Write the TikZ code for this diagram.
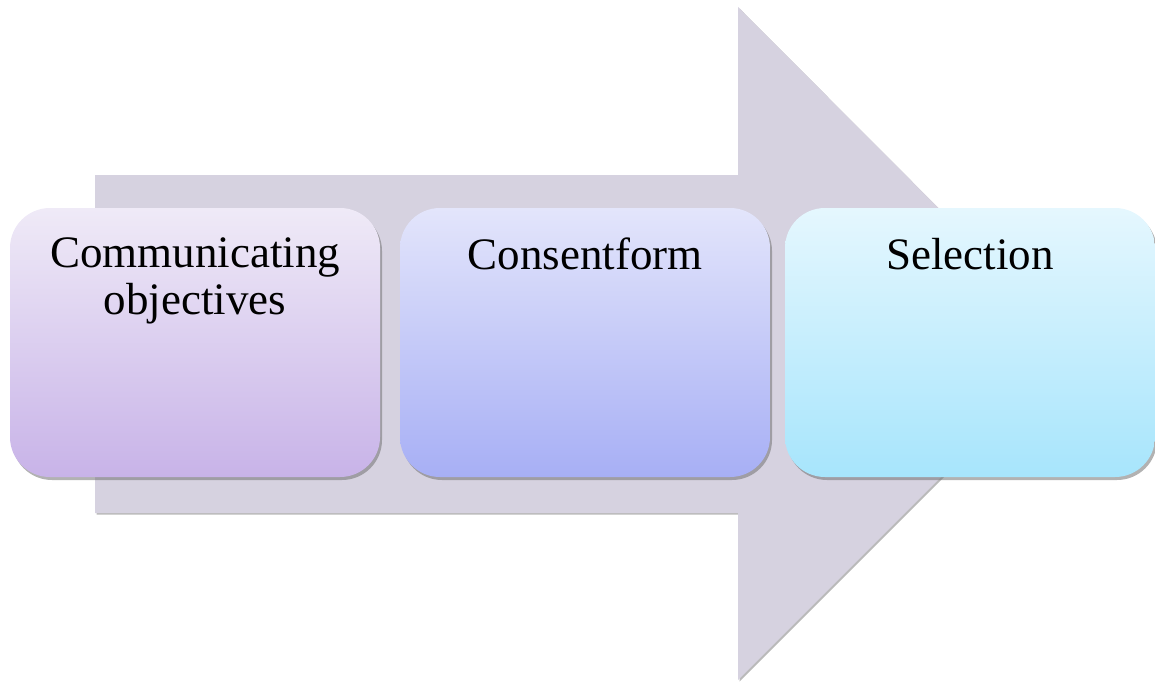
\documentclass[tikz,border=0pt]{standalone}
\usepackage{fontspec}
\setmainfont{Liberation Serif}
\usetikzlibrary{shadows}
\definecolor{arrowfill}{HTML}{D6D2E0}
\definecolor{pTop}{HTML}{EFEAF7}
\definecolor{pBot}{HTML}{C8B3E8}
\definecolor{bTop}{HTML}{E3E5FB}
\definecolor{bBot}{HTML}{A7AFF5}
\definecolor{cTop}{HTML}{E5F7FE}
\definecolor{cBot}{HTML}{A7E5FC}
\tikzset{
  stepbox/.style={rounded corners=40pt, minimum width=370pt, minimum height=269pt,
    inner sep=0pt, draw=none,
    drop shadow={shadow xshift=2pt, shadow yshift=-3pt, opacity=0.55, fill=black!55}},
  steptext/.style={anchor=north, align=center, inner sep=0pt,
    font=\fontsize{45}{47}\selectfont, text=black}
}
\begin{document}
\begin{tikzpicture}[x=1pt,y=-1pt]
\useasboundingbox (0,0) rectangle (1155,682);
% background block arrow
\fill[arrowfill, drop shadow={shadow xshift=1.5pt, shadow yshift=-1.5pt, opacity=0.45, fill=black!60}]
  (95,175) -- (738,175) -- (738,7) -- (1074,344) -- (738,680) -- (738,513) -- (95,513) -- cycle;
% step boxes
\node[stepbox, top color=pTop, bottom color=pBot] (b1) at (195,342.5) {};
\node[stepbox, top color=bTop, bottom color=bBot] (b2) at (585,342.5) {};
\node[stepbox, top color=cTop, bottom color=cBot] (b3) at (970,342.5) {};
% labels
\node[steptext] (t1) at ([yshift=-30pt]b1.north) {Communicating\\objectives};
\node[steptext] (t2) at ([yshift=-30pt]b2.north) {Consentform};
\node[steptext] (t3) at ([yshift=-30pt]b3.north) {Selection};
\end{tikzpicture}
\end{document}
